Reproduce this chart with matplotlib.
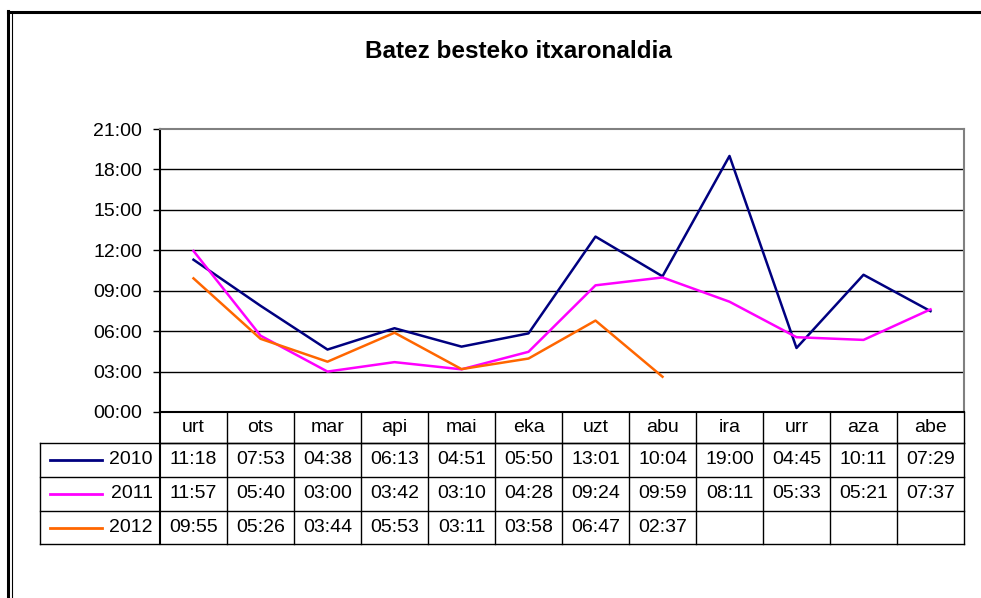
import matplotlib.pyplot as plt
import matplotlib.transforms as mtransforms
from matplotlib.lines import Line2D

# Datuak (mm:ss)
hilabeteak = ['urt', 'ots', 'mar', 'api', 'mai', 'eka', 'uzt', 'abu', 'ira', 'urr', 'aza', 'abe']
urteak = ['2010', '2011', '2012']
balioak_2010 = ['11:18', '07:53', '04:38', '06:13', '04:51', '05:50', '13:01', '10:04', '19:00', '04:45', '10:11', '07:29']
balioak_2011 = ['11:57', '05:40', '03:00', '03:42', '03:10', '04:28', '09:24', '09:59', '08:11', '05:33', '05:21', '07:37']
balioak_2012 = ['09:55', '05:26', '03:44', '05:53', '03:11', '03:58', '06:47', '02:37']
koloreak = ['#000080', '#FF00FF', '#FF6600']
y_ticks = [0, 3, 6, 9, 12, 15, 18, 21]

FONT = 'Liberation Sans'
FS = 14


def minutuak(s):
    m, sec = s.split(':')
    return int(m) + int(sec) / 60


W, H = 981, 598
fig = plt.figure(figsize=(W / 100, H / 100), dpi=100)
fig.patch.set_facecolor('white')


def fx(px):
    return px / W


def fy(py):
    return 1 - py / H


ax = fig.add_axes([fx(160), fy(412), fx(964) - fx(160), fy(129) - fy(412)])

series = [balioak_2010, balioak_2011, balioak_2012]
for urtea, balioak, kol in zip(urteak, series, koloreak):
    xs = list(range(len(balioak)))
    ax.plot(xs, [minutuak(v) for v in balioak], color=kol, lw=1.8, label=urtea, zorder=3)

ax.set_xlim(-0.5, len(hilabeteak) - 0.5)
ax.set_ylim(0, 21)
ax.set_yticks(y_ticks)
ax.set_yticklabels([f'{t:02d}:00' for t in y_ticks], fontsize=FS, family=FONT)
ax.set_xticks([])
for t in y_ticks[1:-1]:
    ax.axhline(t, color='black', lw=1, zorder=1)
ax.tick_params(axis='y', length=5, width=1, pad=8, direction='out')
ax.spines['top'].set_color('#808080')
ax.spines['right'].set_color('#808080')
ax.spines['top'].set_linewidth(1.5)
ax.spines['right'].set_linewidth(1.5)
ax.spines['left'].set_linewidth(1.5)
ax.spines['bottom'].set_linewidth(1.5)

fig.text(fx(518), fy(52), 'Batez besteko itxaronaldia', ha='center', va='center',
         fontsize=17.5, fontweight='bold', family=FONT)

# Taula
tr = mtransforms.blended_transform_factory(ax.transData, fig.transFigure)
errenkadak = [412, 443, 477, 511, 544]
n = len(hilabeteak)
ezker = -0.5
eskuin = n - 0.5

# lerro horizontalak
fig.add_artist(Line2D([ezker, eskuin], [fy(443)] * 2, transform=tr, color='black', lw=1))
for py in errenkadak[1:]:
    fig.add_artist(Line2D([fx(40), fx(964)], [fy(py)] * 2, transform=fig.transFigure, color='black', lw=1))
# lerro bertikalak
for i in range(n + 1):
    fig.add_artist(Line2D([i - 0.5] * 2, [fy(412), fy(544)], transform=tr, color='black',
                          lw=1.5 if i == 0 else 1))
fig.add_artist(Line2D([fx(40)] * 2, [fy(443), fy(544)], transform=fig.transFigure, color='black', lw=1))

for i, h in enumerate(hilabeteak):
    fig.text(i, fy(428), h, transform=tr, ha='center', va='center', fontsize=FS, family=FONT)

for r, (urtea, balioak, kol) in enumerate(zip(urteak, series, koloreak)):
    yc = fy((errenkadak[r + 1] + errenkadak[r + 2]) / 2)
    fig.add_artist(Line2D([fx(50), fx(102)], [yc, yc], transform=fig.transFigure, color=kol, lw=2))
    fig.text(fx(153), yc, urtea, ha='right', va='center', fontsize=FS, family=FONT)
    for i, v in enumerate(balioak):
        fig.text(i, yc, v, transform=tr, ha='center', va='center', fontsize=FS, family=FONT)

# kanpoko markoa
fig.add_artist(Line2D([fx(8), fx(981)], [fy(12)] * 2, transform=fig.transFigure, color='black', lw=2.2))
fig.add_artist(Line2D([fx(8)] * 2, [fy(11), fy(598)], transform=fig.transFigure, color='black', lw=2.2))
fig.add_artist(Line2D([fx(12)] * 2, [fy(14), fy(598)], transform=fig.transFigure, color='black', lw=0.8))

fig.savefig('out.png', dpi=100)
